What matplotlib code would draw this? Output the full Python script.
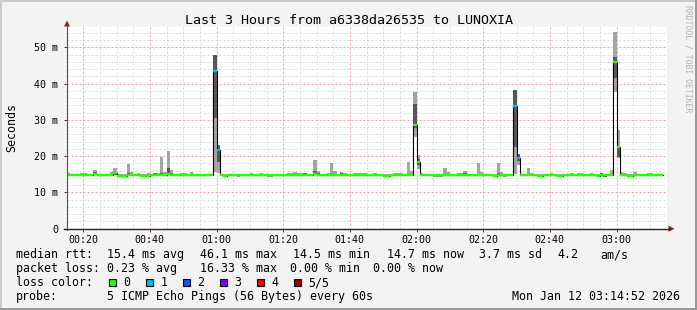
import numpy as np
import matplotlib
matplotlib.use("Agg")
import matplotlib.pyplot as plt
from matplotlib.patches import Rectangle, Polygon
from matplotlib.lines import Line2D
from matplotlib.ticker import MultipleLocator

# ---------------- data (one bin per minute, first bin starts 00:15) ----------------
first_minute = 15
median_ms = [
    14.9, 14.9, 14.9, 14.9, 14.9, 14.9, 14.9, 14.9, 15.2, 14.8, 14.9, 14.9, 14.9, 14.9, 15.3,
    14.5, 14.5, 14.5, 14.9, 14.9, 14.9, 14.9, 14.5, 14.5, 14.6, 14.9, 14.9, 14.9, 14.9, 14.9,
    15.2, 14.9, 14.9, 14.9, 14.9, 14.9, 14.9, 14.9, 14.9, 14.9, 14.9, 14.9, 14.9, 14.9, 43.4,
    21.6, 14.9, 14.5, 14.9, 14.9, 14.9, 14.9, 14.9, 14.9, 14.9, 14.9, 14.9, 14.9, 14.9, 14.9,
    14.9, 14.9, 14.9, 14.9, 14.9, 14.9, 14.9, 14.9, 14.9, 14.9, 14.9, 14.9, 14.9, 14.9, 15.0,
    14.9, 14.9, 14.9, 14.9, 14.9, 14.9, 14.9, 14.9, 14.9, 14.9, 14.9, 14.9, 14.9, 14.9, 14.9,
    14.9, 14.9, 14.9, 14.9, 14.9, 14.5, 14.5, 14.9, 14.9, 14.9, 14.9, 14.9, 14.9, 14.9, 28.7,
    18.3, 14.9, 14.9, 14.9, 14.9, 14.9, 14.9, 14.9, 14.9, 14.9, 14.9, 14.9, 14.9, 14.9, 14.9,
    14.9, 14.9, 14.9, 14.9, 14.9, 14.9, 14.9, 14.9, 14.5, 14.9, 14.9, 14.9, 14.9, 14.9, 33.7,
    19.5, 14.9, 14.9, 14.9, 14.9, 14.9, 14.5, 14.5, 14.9, 14.9, 14.9, 14.9, 14.5, 14.5, 14.9,
    14.9, 14.9, 14.9, 14.9, 14.9, 14.9, 14.9, 14.9, 14.9, 14.5, 14.9, 14.9, 14.9, 14.9, 46.0,
    22.4, 14.9, 14.9, 14.5, 14.5, 14.9, 14.9, 14.9, 14.9, 14.9, 14.9, 14.9, 14.9, 14.7,
]
ping_max = [
    15.4, 15.1, 15.1, 15.1, 15.4, 15.4, 15.1, 15.1, 16.3, 15.1, 15.1, 15.1, 15.1, 15.5, 16.6,
    15.2, 15.1, 15.2, 17.7, 15.7, 15.1, 15.3, 15.1, 15.1, 15.3, 15.1, 15.2, 15.4, 19.7, 15.5,
    21.3, 16.2, 15.1, 15.1, 15.4, 15.4, 15.1, 15.5, 15.1, 15.1, 15.1, 15.1, 15.1, 15.1, 48.0,
    23.2, 15.1, 15.0, 15.1, 15.1, 15.1, 15.1, 15.1, 15.1, 15.1, 15.4, 15.1, 15.1, 15.4, 15.1,
    15.1, 15.1, 15.1, 15.1, 15.1, 15.1, 15.4, 15.4, 15.6, 15.4, 15.4, 15.3, 15.1, 15.1, 18.8,
    15.8, 15.1, 15.1, 15.3, 18.0, 15.8, 15.1, 15.5, 15.3, 15.1, 15.1, 15.3, 15.3, 15.3, 15.3,
    15.1, 15.1, 15.4, 15.1, 15.1, 15.0, 15.0, 15.1, 15.4, 15.4, 15.4, 15.1, 18.5, 16.0, 37.7,
    20.4, 15.3, 15.1, 15.1, 15.1, 15.1, 15.1, 15.1, 16.7, 15.6, 15.1, 15.1, 15.3, 15.4, 15.8,
    15.1, 15.1, 15.1, 18.0, 15.7, 15.1, 15.1, 15.1, 15.0, 18.2, 15.7, 15.1, 15.1, 15.1, 38.1,
    20.6, 15.1, 15.1, 16.6, 15.3, 15.1, 15.0, 15.0, 15.1, 15.1, 15.4, 15.1, 15.0, 15.0, 15.1,
    15.1, 15.3, 15.1, 15.4, 15.3, 15.1, 15.1, 15.3, 15.1, 15.0, 15.3, 15.1, 15.1, 16.2, 54.1,
    27.2, 15.7, 15.3, 15.0, 15.0, 15.7, 15.1, 15.1, 15.1, 15.4, 15.3, 15.1, 15.1, 15.1,
]
ping_4th = [
    15.0, 15.0, 15.0, 15.0, 15.0, 15.0, 15.0, 15.0, 15.6, 15.0, 15.0, 15.0, 15.0, 15.0, 15.7,
    14.7, 14.7, 14.7, 15.4, 15.0, 15.0, 15.0, 14.7, 14.7, 14.8, 15.0, 15.4, 15.0, 15.3, 15.0,
    16.6, 15.3, 15.0, 15.0, 15.0, 15.0, 15.0, 15.0, 15.0, 15.0, 15.0, 15.0, 15.0, 15.0, 48.0,
    23.2, 15.0, 14.7, 15.0, 15.0, 15.0, 15.0, 15.0, 15.0, 15.0, 15.0, 15.0, 15.0, 15.0, 15.0,
    15.0, 15.0, 15.0, 15.0, 15.0, 15.0, 15.0, 15.0, 15.0, 15.0, 15.0, 15.3, 15.0, 15.0, 16.0,
    15.3, 15.0, 15.0, 15.0, 15.0, 15.0, 15.0, 15.3, 15.0, 15.0, 15.0, 15.0, 15.0, 15.0, 15.0,
    15.0, 15.0, 15.0, 15.0, 15.0, 14.7, 14.7, 15.0, 15.0, 15.0, 15.0, 15.0, 15.0, 15.0, 34.4,
    19.3, 15.0, 15.0, 15.0, 15.0, 15.0, 15.0, 15.0, 15.0, 15.2, 15.0, 15.0, 15.0, 15.0, 15.4,
    15.0, 15.0, 15.0, 15.0, 15.2, 15.0, 15.0, 15.0, 14.7, 15.4, 15.0, 15.0, 15.0, 15.0, 38.1,
    20.6, 15.0, 15.0, 15.0, 15.0, 15.0, 14.7, 14.7, 15.0, 15.0, 15.0, 15.0, 14.7, 14.7, 15.2,
    15.0, 15.0, 15.0, 15.0, 15.0, 15.0, 15.0, 15.0, 15.0, 14.7, 15.3, 15.0, 15.0, 15.0, 47.2,
    22.6, 15.0, 15.0, 14.7, 14.7, 15.0, 15.0, 15.0, 15.0, 15.2, 15.0, 15.0, 15.0, 15.0,
]
ping_2nd = [
    14.8, 14.8, 14.8, 14.8, 14.8, 14.8, 14.8, 14.8, 14.8, 14.4, 14.8, 14.8, 14.8, 14.8, 14.8,
    14.4, 14.4, 14.4, 14.8, 14.8, 14.8, 14.8, 14.3, 14.3, 14.4, 14.8, 14.8, 14.8, 14.8, 14.8,
    14.8, 14.8, 14.8, 14.8, 14.8, 14.8, 14.8, 14.8, 14.8, 14.8, 14.8, 14.8, 14.8, 14.8, 30.5,
    18.3, 14.8, 14.4, 14.8, 14.8, 14.8, 14.8, 14.8, 14.8, 14.8, 14.8, 14.8, 14.8, 14.8, 14.8,
    14.8, 14.8, 14.8, 14.8, 14.8, 14.8, 14.8, 14.8, 14.8, 14.8, 14.8, 14.8, 14.8, 14.8, 14.8,
    14.8, 14.8, 14.8, 14.8, 14.8, 14.8, 14.4, 14.8, 14.8, 14.8, 14.8, 14.8, 14.8, 14.8, 14.8,
    14.8, 14.8, 14.8, 14.8, 14.8, 14.4, 14.4, 14.8, 14.8, 14.8, 14.8, 14.8, 14.8, 14.8, 27.7,
    17.6, 14.8, 14.8, 14.8, 14.8, 14.8, 14.8, 14.8, 14.8, 14.8, 14.8, 14.8, 14.8, 14.8, 14.8,
    14.8, 14.8, 14.8, 14.8, 14.8, 14.8, 14.8, 14.8, 14.4, 14.8, 14.8, 14.8, 14.8, 14.8, 22.5,
    18.6, 14.8, 14.8, 14.8, 14.8, 14.8, 14.4, 14.4, 14.8, 14.8, 14.8, 14.8, 14.4, 14.4, 14.5,
    14.8, 14.8, 14.8, 14.8, 14.8, 14.8, 14.8, 14.8, 14.8, 14.4, 14.8, 14.3, 14.8, 14.8, 41.4,
    19.8, 14.8, 14.8, 14.4, 14.4, 14.8, 14.8, 14.8, 14.8, 14.8, 14.8, 14.8, 14.8, 14.6,
]
ping_min = [
    14.7, 14.7, 14.7, 14.7, 14.7, 14.7, 14.7, 14.7, 14.7, 14.6, 14.7, 14.7, 14.7, 14.7, 14.7,
    14.3, 14.3, 14.3, 14.7, 14.7, 14.7, 14.7, 14.3, 14.3, 14.4, 14.7, 14.7, 14.7, 14.7, 14.7,
    14.7, 14.7, 14.7, 14.7, 14.7, 14.7, 14.7, 14.7, 14.7, 14.7, 14.7, 14.7, 14.7, 14.7, 15.5,
    15.3, 14.7, 14.3, 14.7, 14.7, 14.7, 14.3, 14.7, 14.7, 14.7, 14.7, 14.7, 14.7, 14.7, 14.7,
    14.3, 14.3, 14.7, 14.7, 14.7, 14.7, 14.7, 14.7, 14.7, 14.7, 14.7, 14.7, 14.7, 14.7, 14.7,
    14.7, 14.7, 14.7, 14.7, 14.7, 14.7, 14.4, 14.7, 14.7, 14.7, 14.7, 14.7, 14.7, 14.7, 14.7,
    14.7, 14.7, 14.7, 14.7, 14.7, 14.3, 14.3, 14.7, 14.7, 14.7, 14.7, 14.7, 14.7, 14.7, 25.2,
    16.5, 14.7, 14.7, 14.7, 14.7, 14.2, 14.2, 14.2, 14.7, 14.7, 14.7, 14.7, 14.7, 14.7, 14.7,
    14.7, 14.7, 14.7, 14.7, 14.7, 14.7, 14.7, 14.7, 14.3, 14.7, 14.7, 14.2, 14.7, 14.7, 15.0,
    17.5, 14.7, 14.7, 14.7, 14.7, 14.7, 14.3, 14.3, 14.7, 14.7, 14.7, 14.7, 14.3, 14.3, 14.5,
    14.7, 14.7, 14.7, 14.7, 14.7, 14.7, 14.7, 14.7, 14.7, 14.3, 14.7, 14.3, 14.7, 14.7, 37.8,
    19.5, 14.7, 14.7, 14.3, 14.3, 14.7, 14.7, 14.7, 14.7, 14.7, 14.7, 14.7, 14.7, 14.5,
]
lost_pings = [
    0, 0, 0, 0, 0, 0, 0, 0, 0, 0, 0, 0, 0, 0, 0,
    0, 0, 0, 0, 0, 0, 0, 0, 0, 0, 0, 0, 0, 0, 0,
    0, 0, 0, 0, 0, 0, 0, 0, 0, 0, 0, 0, 0, 0, 1,
    1, 0, 0, 0, 0, 0, 0, 0, 0, 0, 0, 0, 0, 0, 0,
    0, 0, 0, 0, 0, 0, 0, 0, 0, 0, 0, 0, 0, 0, 0,
    0, 0, 0, 0, 0, 0, 0, 0, 0, 0, 0, 0, 0, 0, 0,
    0, 0, 0, 0, 0, 0, 0, 0, 0, 0, 0, 0, 0, 0, 0,
    0, 0, 0, 0, 0, 0, 0, 0, 0, 0, 0, 0, 0, 0, 0,
    0, 0, 0, 0, 0, 0, 0, 0, 0, 0, 0, 0, 0, 0, 1,
    1, 0, 0, 0, 0, 0, 0, 0, 0, 0, 0, 0, 0, 0, 0,
    0, 0, 0, 0, 0, 0, 0, 0, 0, 0, 0, 0, 0, 0, 0,
    0, 0, 0, 0, 0, 0, 0, 0, 0, 0, 0, 0, 0, 0,
]
loss_labels = ["0", "1", "2", "3", "4", "5/5"]
loss_colors = ["#26ff00", "#00b8ff", "#0059ff", "#7e00ff", "#ff0000", "#a10000"]
x_tick_minutes = [20, 40, 60, 80, 100, 120, 140, 160, 180]
x_tick_labels = ["00:20", "00:40", "01:00", "01:20", "01:40", "02:00", "02:20", "02:40", "03:00"]
y_ticks = [0, 10, 20, 30, 40, 50]
y_tick_labels = ["0", "10 m", "20 m", "30 m", "40 m", "50 m"]

# ---------------- figure ----------------
W, H, DPI = 697, 310, 100
MONO = "DejaVu Sans Mono"
plt.rcParams["lines.scale_dashes"] = False
fig = plt.figure(figsize=(W / DPI, H / DPI), dpi=DPI, facecolor="#f3f3f3")

def fx(x):
    return x / W

def fy(y):
    return 1 - y / H

def T(x, y, s, **kw):
    kw.setdefault("family", MONO)
    kw.setdefault("fontsize", 8.4)
    kw.setdefault("va", "baseline")
    return fig.text(fx(x), fy(y), s, **kw)

# 3D shade border
fig.add_artist(Rectangle((0, 0), 1, 2 / H, transform=fig.transFigure, color="#999999", lw=0))
fig.add_artist(Rectangle((1 - 2 / W, 0), 2 / W, 1, transform=fig.transFigure, color="#999999", lw=0))
fig.add_artist(Rectangle((0, 1 - 2 / H), 1 - 2 / W, 2 / H, transform=fig.transFigure, color="#cbcbcb", lw=0))
fig.add_artist(Rectangle((0, 2 / H), 2 / W, 1 - 4 / H, transform=fig.transFigure, color="#cbcbcb", lw=0))

L, R, TOP, BOT = 67, 667, 27.3, 228.7
ax = fig.add_axes([fx(L), fy(BOT), (R - L) / W, (BOT - TOP) / H])
ax.set_facecolor("white")
ax.set_xlim(15.15, 195.15)
ax.set_ylim(0, 55.5)
for s in ax.spines.values():
    s.set_visible(False)

n = len(median_ms)
bins = first_minute + np.arange(n)
edges = first_minute + np.arange(n + 1)

def ext(a):
    a = np.asarray(a, float)
    return np.append(a, a[-1])

ax.set_xticks(x_tick_minutes)
ax.set_xticklabels(x_tick_labels, family=MONO, fontsize=7.2)
ax.xaxis.set_minor_locator(MultipleLocator(5))
ax.set_yticks(y_ticks)
ax.set_yticklabels(y_tick_labels, family=MONO, fontsize=7.2)
ax.yaxis.set_minor_locator(MultipleLocator(2))
ax.tick_params(which="major", length=2.2, width=0.72, color="#404040", pad=2.5)
ax.tick_params(which="minor", length=0)
ax.tick_params(axis="y", pad=4)
ax.grid(which="minor", color="#d8d8d8", lw=0.72, ls=(0, (1.44, 1.44)))
ax.grid(which="major", color="#f0a0a0", lw=0.72, ls=(0, (1.44, 1.44)))
ax.set_axisbelow(True)

# smoke
ax.fill_between(edges, ext(ping_min), ext(ping_max), step="post", color="#a4a4a4", lw=0, zorder=3)
ax.fill_between(edges, ext(ping_2nd), ext(ping_4th), step="post", color="#585858", lw=0, zorder=4)
# median step line (black) and loss-coloured median band
ax.step(edges, ext(median_ms), where="post", color="black", lw=0.8, zorder=5)
sw = 55.5 / (BOT - TOP)
med = np.asarray(median_ms)
cols = [loss_colors[k] for k in lost_pings]
ax.bar(bins, 2 * sw, bottom=med - sw, width=1.0, align="edge", color=cols,
       edgecolor=cols, lw=0.3, zorder=6)

ax.set_ylabel("Seconds", family=MONO, fontsize=8.4)
ax.yaxis.set_label_coords((18 - L) / (R - L), 0.5)

# axes lines with arrows
fig.add_artist(Line2D([fx(L), fx(L)], [fy(BOT + 1), fy(23)], transform=fig.transFigure, color="#505050", lw=0.8))
fig.add_artist(Line2D([fx(L - 3), fx(670)], [fy(BOT), fy(BOT)], transform=fig.transFigure, color="#202020", lw=1.0))
fig.add_artist(Polygon([(fx(L), fy(20.5)), (fx(L - 3), fy(26.5)), (fx(L + 3), fy(26.5))],
                       closed=True, transform=fig.transFigure, color="#9b1c1c", lw=0))
fig.add_artist(Polygon([(fx(674.5), fy(BOT)), (fx(668.5), fy(BOT - 3)), (fx(668.5), fy(BOT + 3))],
                       closed=True, transform=fig.transFigure, color="#9b1c1c", lw=0))

# title and watermark
T(349, 24, "Last 3 Hours from a6338da26535 to LUNOXIA", fontsize=9.6, ha="center")
fig.text(fx(688), fy(5), "RRDTOOL / TOBI OETIKER", family=MONO, fontsize=5.9, color="#b4b4b4",
         rotation=270, ha="center", va="top")

# legend
y1, y2, y3, y4 = 258.3, 272.3, 286, 300
T(16, y1, "median rtt:")
T(107.3, y1, "15.4 ms avg")
T(200, y1, "46.1 ms max")
T(293.3, y1, "14.5 ms min")
T(386.7, y1, "14.7 ms now")
T(479.3, y1, "3.7 ms sd")
T(557.3, y1, "4.2")
T(600, y1, "am/s")
T(16, y2, "packet loss:")
T(107.3, y2, "0.23 % avg")
T(200, y2, "16.33 % max")
T(290, y2, "0.00 % min")
T(372.7, y2, "0.00 % now")
T(16, y3, "loss color:")
for i, (lab, col) in enumerate(zip(loss_labels, loss_colors)):
    bx = 109 + i * 37
    fig.add_artist(Rectangle((fx(bx), fy(286)), 7 / W, 7.5 / H, transform=fig.transFigure,
                             facecolor=col, edgecolor="black", lw=0.8))
    T(bx + 14.3, y3, lab)
T(16, y4, "probe:")
T(107.3, y4, "5 ICMP Echo Pings (56 Bytes) every 60s")
T(680, y4, "Mon Jan 12 03:14:52 2026", ha="right")

fig.savefig("out.png", dpi=DPI, facecolor=fig.get_facecolor())
